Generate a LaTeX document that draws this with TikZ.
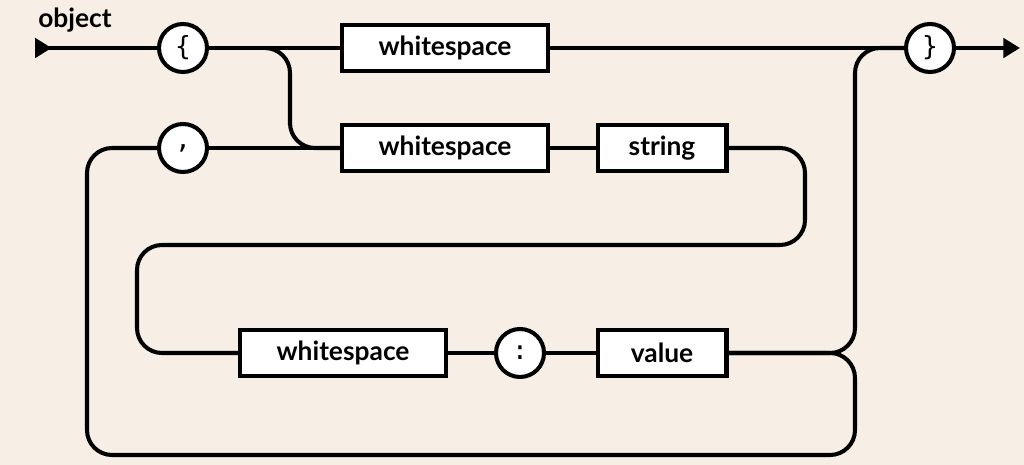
\documentclass[tikz,border=0pt]{standalone}
\usepackage{fontspec}
\setmainfont{Lato}
\setmonofont{DejaVu Sans Mono}
\usetikzlibrary{arrows.meta}
\definecolor{paper}{HTML}{F7EEE5}
\tikzset{
  track/.style={line width=2.3pt, rounded corners=0.5cm},
  term/.style={draw, line width=2.3pt, fill=white, minimum width=4.12cm, minimum height=0.92cm, font=\fontsize{15}{18}\selectfont\bfseries},
  lit/.style={draw, circle, line width=2.3pt, fill=white, minimum size=0.96cm, inner sep=0pt, font=\fontsize{15}{18}\selectfont\ttfamily}
}
\begin{document}
\begin{tikzpicture}[x=0.02cm,y=-0.02cm]
  \fill[paper] (0,0) rectangle (1024,465);
  \useasboundingbox (0,0) rectangle (1024,465);

  \node[font=\fontsize{15}{18}\selectfont\bfseries] (title) at (75,20) {object};
  \coordinate (start) at (35,48);
  \coordinate (end) at (1020,48);
  \coordinate (split) at (265,48);

  % terminals and literals
  \node[lit] (lbrace) at (183,48) {\{};
  \node[lit] (rbrace) at (930,48) {\}};
  \node[lit] (comma) at (183,148) {,};
  \node[term] (ws1) at (445,48) {whitespace};
  \node[term] (ws2) at (445,148) {whitespace};
  \node[term, minimum width=2.58cm] (str) at (662,148) {string};
  \node[term] (ws3) at (343,353) {whitespace};
  \node[lit] (colon) at (520,353) {:};
  \node[term, minimum width=2.58cm] (val) at (662,353) {value};

  % connectors
  \draw[track, {Triangle[reversed]}-] (start) -- (lbrace);
  \draw[track] (lbrace) -- (ws1);
  \draw[track] (ws1) -- (rbrace);
  \draw[track, -{Triangle}] (rbrace) -- (end);
  \draw[track] (split) -| (290,100) |- (ws2.west);
  \draw[track] (comma) -- (ws2);
  \draw[track] (ws2) -- (str);
  \draw[track] (str.east) -| (805,245) -| (137,353) -- (ws3.west);
  \draw[track] (ws3) -- (colon);
  \draw[track] (colon) -- (val);
  \draw[track] (val.east) -| (855,48) -- (rbrace.west);
  \draw[track] (val.east) -| (855,455) -| (87,148) -- (comma.west);
\end{tikzpicture}
\end{document}
